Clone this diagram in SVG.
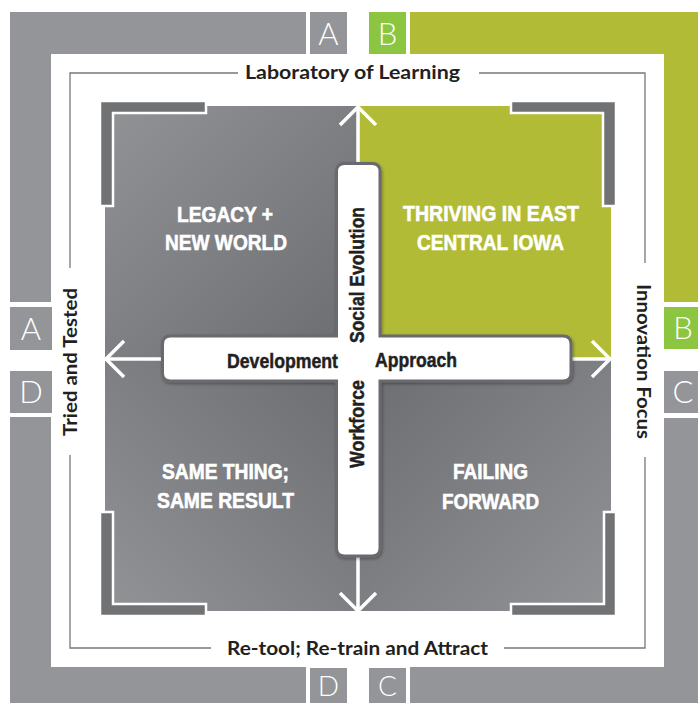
<svg xmlns="http://www.w3.org/2000/svg" width="698" height="703" viewBox="0 0 698 703">
<defs>
<style>
.gray{fill:#939598}
.green{fill:#b1bb36}
.bgreen{fill:#8cc540}
.letter{font-family:Lato,"Open Sans","Liberation Sans",sans-serif;font-weight:300;font-size:31px;fill:#fff;text-anchor:middle}
.letter.low{font-size:28px}
.brk{fill:#717274;stroke:#fff;stroke-width:2.5}
.thin{fill:none;stroke:#77787b;stroke-width:1.3}
.side{font-family:Lato,"Open Sans","Liberation Sans",sans-serif;font-weight:700;font-size:19px;fill:#231f20}
.qt{font-family:"Liberation Sans",Arial,sans-serif;font-weight:700;font-size:22px;fill:#fff;stroke:#fff;stroke-width:0.6}
.ct{font-family:"Liberation Sans",Arial,sans-serif;font-weight:700;font-size:21px;fill:#231f20;stroke:#231f20;stroke-width:0.5}
.arrow{fill:none;stroke:#fff;stroke-width:3.5;stroke-linecap:butt}
</style>
<linearGradient id="gTL" x1="0" y1="0" x2="1" y2="1">
<stop offset="0" stop-color="#929397"/><stop offset="1" stop-color="#6b6c70"/>
</linearGradient>
<linearGradient id="gBL" x1="0" y1="1" x2="1" y2="0">
<stop offset="0" stop-color="#929397"/><stop offset="1" stop-color="#6b6c70"/>
</linearGradient>
<linearGradient id="gBR" x1="1" y1="1" x2="0" y2="0">
<stop offset="0" stop-color="#929397"/><stop offset="1" stop-color="#6b6c70"/>
</linearGradient>
<filter id="sh" x="-10%" y="-10%" width="120%" height="120%">
<feDropShadow dx="1" dy="1.5" stdDeviation="1.5" flood-color="#000" flood-opacity="0.35"/>
</filter>
</defs>
<rect width="698" height="703" fill="#fff"/>

<g id="frame">
<rect class="gray" x="10" y="12" width="296" height="42"/>
<rect class="gray" x="10" y="12" width="41" height="290"/>
<rect class="gray" x="10" y="417" width="41" height="286"/>
<rect class="gray" x="10" y="667" width="296" height="36"/>
<rect class="green" x="410" y="12" width="288" height="42"/>
<rect class="green" x="664" y="12" width="34" height="290"/>
<rect class="gray" x="664" y="418" width="34" height="285"/>
<rect class="gray" x="410" y="667" width="288" height="36"/>
</g>

<g id="letters">
<g id="box-a-top"><rect class="gray" x="310" y="12" width="37" height="42"/><text class="letter" x="328.5" y="45">A</text></g>
<g id="box-b-top"><rect class="bgreen" x="369" y="12" width="37" height="42"/><text class="letter" x="387.5" y="45">B</text></g>
<g id="box-a-left"><rect class="gray" x="10" y="307" width="42" height="43"/><text class="letter" x="31" y="340">A</text></g>
<g id="box-d-left"><rect class="gray" x="10" y="371" width="42" height="42"/><text class="letter" x="31" y="403">D</text></g>
<g id="box-b-right"><rect class="bgreen" x="664" y="307" width="34" height="42"/><text class="letter" x="683" y="339">B</text></g>
<g id="box-c-right"><rect class="gray" x="664" y="371" width="34" height="42"/><text class="letter" x="683" y="403">C</text></g>
<g id="box-d-bottom"><rect class="gray" x="310" y="668" width="37" height="35"/><text class="letter low" x="328.5" y="696">D</text></g>
<g id="box-c-bottom"><rect class="gray" x="369" y="668" width="37" height="35"/><text class="letter low" x="387.5" y="696">C</text></g>
</g>

<g id="labels">
<path class="thin" d="M70,268 V73 H238 M479,73 H645 V263 M645,457 V648 H504 M211,648 H70 V455"/>
<text class="side" x="245" y="79" textLength="215" lengthAdjust="spacingAndGlyphs">Laboratory of Learning</text>
<text class="side" x="227" y="655" textLength="261" lengthAdjust="spacingAndGlyphs">Re-tool; Re-train and Attract</text>
<text class="side" transform="translate(77,436) rotate(-90)" textLength="148" lengthAdjust="spacingAndGlyphs">Tried and Tested</text>
<text class="side" transform="translate(637,284) rotate(90)" textLength="155" lengthAdjust="spacingAndGlyphs">Innovation Focus</text>
</g>

<g id="q-tl">
<rect x="105" y="106" width="253" height="253" fill="url(#gTL)"/>
<path class="brk" d="M100,101 H206 V113 H113 V206 H100 Z"/>
<text class="qt" x="177" y="222" textLength="96" lengthAdjust="spacingAndGlyphs">LEGACY +</text>
<text class="qt" x="165" y="250" textLength="122" lengthAdjust="spacingAndGlyphs">NEW WORLD</text>
</g>
<g id="q-tr">
<rect class="green" x="358" y="106" width="253" height="253"/>
<path class="brk" d="M511,101 H616 V206 H603 V113 H511 Z"/>
<text class="qt" x="403" y="221" textLength="176" lengthAdjust="spacingAndGlyphs">THRIVING IN EAST</text>
<text class="qt" x="417" y="250" textLength="147" lengthAdjust="spacingAndGlyphs">CENTRAL IOWA</text>
</g>
<g id="q-bl">
<rect x="105" y="359" width="253" height="252" fill="url(#gBL)"/>
<path class="brk" d="M100,512 H113 V604 H206 V616 H100 Z"/>
<text class="qt" x="162" y="479" textLength="127" lengthAdjust="spacingAndGlyphs">SAME THING;</text>
<text class="qt" x="157" y="508" textLength="137" lengthAdjust="spacingAndGlyphs">SAME RESULT</text>
</g>
<g id="q-br">
<rect x="358" y="359" width="253" height="252" fill="url(#gBR)"/>
<path class="brk" d="M604,512 H616 V616 H511 V604 H604 Z"/>
<text class="qt" x="453" y="479" textLength="75" lengthAdjust="spacingAndGlyphs">FAILING</text>
<text class="qt" x="442" y="509" textLength="97" lengthAdjust="spacingAndGlyphs">FORWARD</text>
</g>

<g id="connectors">
<path class="arrow" d="M358,611 V107 M105,359 H611"/>
<path class="arrow" d="M340,125 L358,107 L376,125"/>
<path class="arrow" d="M340,593 L358,611 L376,593"/>
<path class="arrow" d="M124,341 L106,359 L124,377"/>
<path class="arrow" d="M592,341 L610,359 L592,377"/>
</g>

<g id="cross">
<path filter="url(#sh)" fill="#fff" stroke="#6a6b6e" stroke-width="3" d="M344.5,163.5 H372 Q380,163.5 380,171.5 V336 H563 Q571,336 571,344 V373 Q571,381 563,381 H380 V548 Q380,556 372,556 H344.5 Q336.5,556 336.5,548 V381 H170.5 Q162.5,381 162.5,373 V344 Q162.5,336 170.5,336 H336.5 V171.5 Q336.5,163.5 344.5,163.5 Z"/>
<text class="ct" x="227" y="368" textLength="111" lengthAdjust="spacingAndGlyphs">Development</text>
<text class="ct" x="375" y="367" textLength="82" lengthAdjust="spacingAndGlyphs">Approach</text>
<text class="ct" transform="translate(364,343) rotate(-90)" textLength="136" lengthAdjust="spacingAndGlyphs">Social Evolution</text>
<text class="ct" transform="translate(364,468) rotate(-90)" textLength="88" lengthAdjust="spacingAndGlyphs">Workforce</text>
</g>
</svg>
